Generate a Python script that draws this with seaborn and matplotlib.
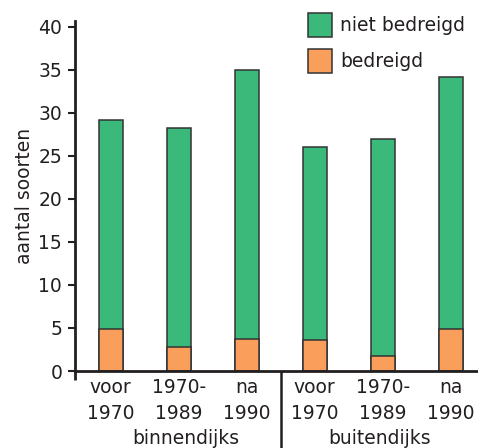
import numpy as np
import pandas as pd
import matplotlib
matplotlib.use('Agg')
import matplotlib.pyplot as plt
import seaborn as sns
from matplotlib.patches import Patch

sns.set_style('white')
plt.rcParams['font.family'] = ['DejaVu Sans']

# data
groepen = ['binnendijks', 'binnendijks', 'binnendijks', 'buitendijks', 'buitendijks', 'buitendijks']
perioden = ['voor\n1970', '1970-\n1989', 'na\n1990', 'voor\n1970', '1970-\n1989', 'na\n1990']
totaal = [29.2, 28.2, 35.0, 26.1, 27.0, 34.2]
bedreigd = [4.85, 2.8, 3.7, 3.65, 1.8, 4.85]

df = pd.DataFrame({'groep': groepen, 'periode': perioden, 'totaal': totaal, 'bedreigd': bedreigd})
df['cat'] = df['groep'] + ' ' + df['periode']

groen = '#3bb97a'
oranje = '#f99e5b'
rand = '#333333'
tekst = '#231f20'
fs = 13.5

fig = plt.figure(figsize=(4.78, 4.48), dpi=100)
ax = fig.add_axes([74.7 / 478, 77 / 448, (478 - 74.7) / 478, (371 - 20.7) / 448])

sns.barplot(data=df, x='cat', y='totaal', color=groen, saturation=1, width=0.35,
            edgecolor=rand, linewidth=1.1, errorbar=None, ax=ax)
sns.barplot(data=df, x='cat', y='bedreigd', color=oranje, saturation=1, width=0.35,
            edgecolor=rand, linewidth=1.1, errorbar=None, ax=ax)

ax.set_xlim(-0.53, 5.4)
ax.set_ylim(0, 40.73)
ax.set_yticks(range(0, 41, 5))
ax.set_xticks(range(len(perioden)))
ax.set_xticklabels(perioden, fontsize=fs, color=tekst, linespacing=1.5)
ax.tick_params(axis='x', length=0, pad=5)
ax.tick_params(axis='y', length=5, width=1.5, color=tekst, pad=4, labelsize=fs, labelcolor=tekst, left=True)
ax.set_xlabel('')
ax.set_ylabel('aantal soorten', fontsize=fs, color=tekst, labelpad=3)

sns.despine(ax=ax)
for s in ['left', 'bottom']:
    ax.spines[s].set_linewidth(2)
    ax.spines[s].set_color(tekst)

# axis stub below zero and group separator
ax.plot([-0.53, -0.53], [0, -1.1], color=tekst, lw=2, clip_on=False, solid_capstyle='butt')
ax.plot([2.5, 2.5], [0, -9.5], color=tekst, lw=1.8, clip_on=False, solid_capstyle='butt')

ax.text(1.1, -7.8, 'binnendijks', ha='center', va='center', fontsize=fs, color=tekst)
ax.text(3.95, -7.8, 'buitendijks', ha='center', va='center', fontsize=fs, color=tekst)

handles = [Patch(facecolor=groen, edgecolor=rand, linewidth=1.1, label='niet bedreigd'),
           Patch(facecolor=oranje, edgecolor=rand, linewidth=1.1, label='bedreigd')]
leg = fig.legend(handles=handles, loc='upper left', bbox_to_anchor=(308 / 478, 1 - 13 / 448),
                 frameon=False, fontsize=fs, handlelength=1.28, handleheight=1.6,
                 handletextpad=0.45, labelspacing=0.62, borderpad=0, borderaxespad=0)
for t in leg.get_texts():
    t.set_color(tekst)

fig.savefig('out.png', dpi=100)
